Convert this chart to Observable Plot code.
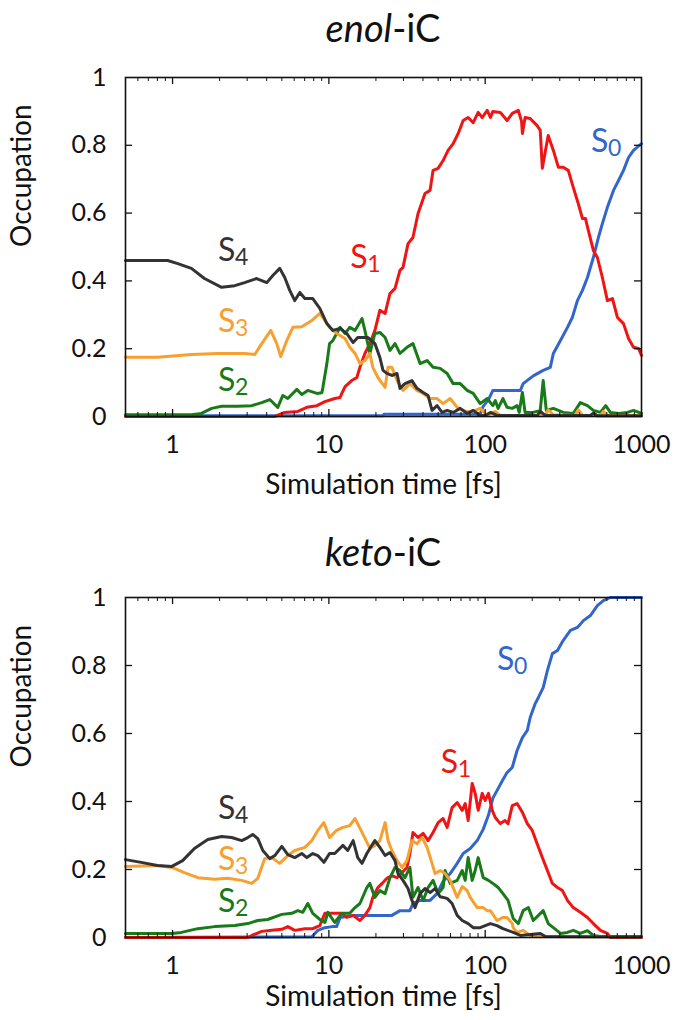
<!DOCTYPE html>
<html>
<head>
<meta charset="utf-8">
<script src="https://cdn.jsdelivr.net/npm/d3@7"></script>
<script src="https://cdn.jsdelivr.net/npm/@observablehq/plot@0.6"></script>
<style>
  body { margin: 0; background: #fff; font-family: Lato, "Open Sans", sans-serif; }
  #wrap { position: relative; width: 678px; height: 1020px; overflow: hidden; background: #fff; }
  .title { position: absolute; left: 125px; width: 516px; text-align: center; font-size: 38px; line-height: 1; color: #111; }
  .panel { position: absolute; left: 0; }
</style>
</head>
<body>
<div id="wrap">
  <div class="title" style="top:8px"><i>enol</i>-iC</div>
  <div class="panel" id="p1" style="top:55px"></div>
  <div class="title" style="top:532px"><i>keto</i>-iC</div>
  <div class="panel" id="p2" style="top:575px"></div>
</div>
<script>
// Electronic state occupations vs. simulation time [fs], pairs of [time, occupation]

// ---- enol-iC ----
const enolS0 = [[0.5,0.002],[22.2,0.002],[22.5,0.007],[92.9,0.007],[97.1,0.03],[105,0.05],[112,0.077],[168,0.077],[175,0.097],[203,0.12],[235,0.136],[261,0.145],[273,0.186],[303,0.224],[336,0.263],[361,0.292],[389,0.342],[419,0.372],[451,0.41],[492,0.469],[530,0.528],[562,0.569],[605,0.617],[662,0.667],[713,0.696],[767,0.726],[826,0.764],[889,0.785],[1000,0.805]];
const enolS1 = [[0.5,0],[4.5,0],[5.22,0.012],[6.33,0.015],[7.23,0.027],[8.38,0.032],[9.43,0.044],[10.9,0.053],[11.8,0.056],[12.1,0.068],[12.7,0.088],[14.0,0.106],[15.1,0.115],[15.8,0.145],[17.0,0.186],[18.3,0.215],[19.7,0.254],[21.2,0.313],[22.9,0.304],[24.6,0.363],[26.5,0.378],[28.5,0.431],[29.8,0.44],[32.1,0.51],[34.5,0.528],[37.2,0.599],[41.2,0.658],[44.4,0.667],[46.4,0.726],[50.0,0.732],[53.8,0.755],[57.9,0.785],[62.4,0.805],[67.2,0.835],[72.3,0.873],[77.8,0.882],[83.8,0.867],[90.2,0.897],[95.7,0.882],[103,0.903],[108,0.882],[112,0.9],[125,0.897],[138,0.873],[149,0.894],[163,0.903],[171,0.87],[173,0.835],[180,0.882],[194,0.879],[215,0.858],[225,0.844],[232,0.732],[243,0.785],[253,0.829],[273,0.785],[294,0.735],[316,0.735],[340,0.726],[366,0.676],[394,0.628],[419,0.584],[438,0.584],[457,0.549],[492,0.49],[522,0.469],[562,0.41],[605,0.342],[652,0.348],[702,0.292],[767,0.274],[826,0.23],[889,0.204],[957,0.201],[1000,0.18]];
const enolS2 = [[0.5,0.005],[1.32,0.005],[1.53,0.009],[1.78,0.024],[2.06,0.03],[2.61,0.03],[3.21,0.032],[3.72,0.041],[4.19,0.05],[4.71,0.027],[5.07,0.062],[5.46,0.053],[6.24,0.08],[6.71,0.065],[7.33,0.077],[8.38,0.068],[9.02,0.07],[9.16,0.086],[9.71,0.156],[10.1,0.215],[10.6,0.224],[11.8,0.263],[12.7,0.245],[13.6,0.263],[14.7,0.254],[16.3,0.289],[17.0,0.254],[18.3,0.186],[19.7,0.245],[21.2,0.248],[22.9,0.233],[24.6,0.195],[26.5,0.215],[28.5,0.186],[31.6,0.204],[34.5,0.215],[38.3,0.156],[42.5,0.165],[46.4,0.145],[51.5,0.142],[57.1,0.127],[62.4,0.097],[69.2,0.097],[76.7,0.077],[83.8,0.068],[92.9,0.038],[103,0.053],[112,0.032],[116,0.047],[121,0.024],[130,0.053],[138,0.027],[149,0.024],[160,0.032],[165,0.012],[173,0.071],[180,0.012],[203,0.012],[225,0.018],[235,0.106],[246,0.018],[273,0.024],[316,0.012],[366,0.009],[406,0.041],[451,0.032],[492,0.018],[546,0.012],[590,0.032],[632,0.012],[713,0.009],[813,0.012],[889,0.018],[1000,0.009]];
const enolS3 = [[0.5,0.175],[0.80,0.175],[1.32,0.183],[1.94,0.186],[2.89,0.186],[3.36,0.183],[3.72,0.215],[4.25,0.254],[4.64,0.215],[4.92,0.177],[5.38,0.224],[5.88,0.263],[6.71,0.265],[7.78,0.283],[8.75,0.304],[9.16,0.292],[10.1,0.263],[11.2,0.245],[12.7,0.23],[13.6,0.204],[14.7,0.186],[15.8,0.156],[17.0,0.165],[18.3,0.186],[19.1,0.145],[20.6,0.115],[22.9,0.086],[23.9,0.145],[25.3,0.145],[27.3,0.106],[29.8,0.077],[33.0,0.097],[36.6,0.077],[40.1,0.068],[44.4,0.053],[49.2,0.053],[53.8,0.038],[59.7,0.053],[66.2,0.027],[72.3,0.018],[80.2,0.012],[92.9,0.024],[103,0.003],[116,0.015],[125,0.003],[243,0.003],[253,0.02],[273,0.005],[375,0.003],[394,0.02],[419,0.003],[546,0.003],[570,0.015],[605,0.003],[1000,0.003]];
const enolS4 = [[0.5,0.46],[0.93,0.46],[1.08,0.451],[1.32,0.437],[1.6,0.407],[2.06,0.381],[2.5,0.386],[2.89,0.395],[3.45,0.407],[4.01,0.395],[4.38,0.416],[4.85,0.437],[5.22,0.41],[5.62,0.372],[6.05,0.342],[6.52,0.366],[7.02,0.348],[7.89,0.348],[8.75,0.319],[9.71,0.274],[10.6,0.254],[11.8,0.26],[13.0,0.245],[14.3,0.218],[15.3,0.233],[17.8,0.233],[19.7,0.215],[21.2,0.174],[22.2,0.136],[23.5,0.127],[25.3,0.121],[27.3,0.127],[28.5,0.083],[30.7,0.097],[34.0,0.106],[36.6,0.083],[40.1,0.071],[43.1,0.062],[45.7,0.018],[49.2,0.032],[53.0,0.012],[57.1,0.018],[62.4,0.012],[69.2,0.024],[76.7,0.009],[83.8,0.018],[92.9,0.003],[100,0.003],[108,0.012],[119,0.003],[215,0.003],[225,0.015],[243,0.003],[471,0.003],[492,0.01],[522,0.002],[1000,0.002]];

// ---- keto-iC ----
const ketoS0 = [[0.5,0],[7.78,0.002],[8.5,0.021],[9.43,0.029],[10.5,0.032],[11.2,0.032],[11.8,0.059],[14.3,0.065],[25.3,0.065],[27.3,0.074],[28.5,0.079],[33.0,0.079],[34.5,0.1],[38.3,0.109],[44.4,0.109],[49.2,0.129],[53.8,0.165],[59.7,0.188],[66.2,0.218],[72.3,0.247],[80.2,0.262],[88.9,0.285],[97.1,0.318],[105,0.36],[112,0.41],[119,0.432],[129,0.462],[138,0.485],[149,0.5],[160,0.55],[173,0.588],[186,0.609],[194,0.647],[209,0.688],[219,0.706],[235,0.735],[250,0.785],[269,0.835],[290,0.844],[316,0.874],[351,0.903],[389,0.912],[425,0.932],[471,0.947],[522,0.976],[570,0.991],[632,1.0],[1000,1.0]];
const ketoS1 = [[0.5,0],[3.03,0],[3.21,0.006],[3.72,0.018],[4.31,0.021],[5.0,0.024],[5.46,0.032],[6.05,0.021],[7.02,0.026],[7.89,0.026],[8.75,0.035],[9.43,0.071],[10.9,0.071],[12.1,0.071],[13.0,0.059],[14.3,0.065],[15.8,0.05],[17.0,0.065],[18.3,0.088],[19.1,0.118],[20.6,0.147],[21.9,0.159],[23.5,0.174],[25.3,0.182],[27.3,0.176],[29.4,0.191],[31.6,0.206],[33.0,0.247],[34.5,0.309],[37.2,0.294],[40.1,0.306],[43.1,0.285],[46.4,0.309],[50.0,0.338],[53.8,0.35],[57.1,0.324],[61.4,0.382],[66.2,0.397],[71.3,0.374],[74.5,0.394],[77.8,0.344],[82.6,0.453],[86.3,0.424],[90.2,0.374],[95.7,0.424],[100,0.403],[105,0.424],[111,0.374],[116,0.353],[125,0.335],[134,0.344],[140,0.335],[149,0.388],[160,0.394],[173,0.368],[186,0.335],[200,0.315],[215,0.276],[232,0.235],[250,0.197],[269,0.159],[290,0.147],[312,0.138],[336,0.109],[366,0.088],[406,0.074],[451,0.059],[492,0.041],[546,0.021],[605,0.012],[632,0],[1000,0]];
const ketoS2 = [[0.5,0.012],[0.99,0.012],[1.14,0.015],[1.45,0.026],[1.86,0.032],[2.5,0.035],[3.03,0.041],[3.51,0.05],[4.06,0.053],[5.0,0.068],[5.79,0.071],[6.33,0.079],[6.81,0.074],[7.33,0.1],[7.89,0.071],[8.75,0.053],[9.43,0.044],[9.86,0.074],[10.9,0.044],[12.1,0.071],[13.6,0.071],[14.7,0.088],[15.8,0.1],[17.5,0.147],[18.3,0.159],[19.7,0.118],[21.2,0.138],[22.9,0.129],[24.6,0.176],[26.5,0.206],[28.5,0.197],[30.7,0.176],[33.0,0.206],[34.5,0.118],[37.2,0.147],[40.1,0.109],[43.1,0.147],[46.4,0.168],[50.0,0.129],[53.8,0.147],[55.4,0.197],[59.7,0.159],[66.2,0.168],[71.3,0.197],[74.5,0.168],[77.8,0.235],[82.6,0.168],[86.3,0.197],[90.2,0.235],[97.1,0.176],[105,0.168],[112,0.159],[121,0.147],[130,0.129],[140,0.109],[151,0.056],[163,0.041],[175,0.079],[189,0.088],[203,0.05],[219,0.065],[235,0.079],[253,0.041],[273,0.029],[303,0.012],[336,0.015],[366,0.021],[406,0.012],[451,0.02],[492,0.006],[546,0.003],[1000,0.002]];
const ketoS3 = [[0.5,0.209],[0.80,0.212],[0.99,0.206],[1.19,0.191],[1.45,0.176],[1.86,0.171],[2.25,0.174],[2.77,0.168],[3.21,0.159],[3.51,0.174],[3.89,0.232],[4.31,0.235],[4.85,0.218],[5.46,0.241],[6.05,0.256],[7.02,0.265],[7.78,0.285],[8.5,0.315],[9.29,0.338],[10.1,0.294],[11.2,0.315],[12.3,0.324],[13.6,0.329],[14.7,0.35],[16.3,0.309],[18.3,0.262],[19.7,0.271],[21.2,0.285],[22.9,0.338],[23.9,0.285],[25.3,0.256],[27.3,0.226],[29.4,0.206],[31.6,0.226],[34.0,0.285],[36.6,0.276],[39.5,0.294],[42.5,0.265],[45.7,0.218],[47.8,0.188],[51.5,0.197],[55.4,0.188],[59.7,0.168],[66.2,0.118],[71.3,0.15],[76.7,0.138],[80.2,0.118],[88.9,0.088],[97.1,0.088],[103,0.079],[108,0.079],[119,0.05],[130,0.059],[138,0.059],[149,0.041],[151,0.029],[160,0.015],[175,0.021],[194,0.006],[215,0.003],[1000,0.002]];
const ketoS4 = [[0.5,0.229],[0.63,0.221],[0.80,0.212],[0.99,0.209],[1.16,0.226],[1.38,0.262],[1.68,0.288],[2.06,0.297],[2.39,0.294],[2.77,0.285],[3.03,0.294],[3.26,0.303],[3.51,0.291],[3.78,0.256],[4.19,0.232],[4.51,0.241],[5.0,0.268],[5.46,0.244],[6.05,0.235],[6.71,0.247],[7.23,0.235],[7.89,0.247],[8.5,0.241],[9.29,0.221],[10.1,0.247],[10.9,0.247],[12.3,0.271],[13.2,0.256],[14.3,0.285],[15.3,0.235],[16.3,0.218],[17.5,0.247],[18.3,0.262],[19.7,0.285],[21.2,0.265],[22.9,0.241],[24.6,0.25],[26.5,0.226],[27.7,0.188],[29.8,0.168],[32.1,0.144],[34.0,0.109],[35.6,0.088],[38.3,0.129],[41.2,0.144],[44.4,0.132],[47.8,0.144],[51.5,0.12],[57.1,0.115],[61.4,0.1],[66.2,0.065],[71.3,0.05],[77.8,0.041],[83.8,0.029],[92.9,0.029],[108,0.041],[119,0.035],[130,0.026],[151,0.015],[168,0.006],[225,0.012],[243,0.003],[1000,0.002]];

// state colours and labels
const stateNames = ["S0", "S1", "S2", "S3", "S4"];
const stateColors = ["#3366cc", "#f01414", "#187a18", "#f7a030", "#333333"];
const enolLabelT = [475, 13.7, 1.95, 1.95, 1.95];
const enolLabelV = [0.811, 0.469, 0.106, 0.28, 0.49];
const ketoLabelT = [119, 52, 1.95, 1.95, 1.95];
const ketoLabelV = [0.818, 0.515, 0.106, 0.229, 0.379];

// axes
const xDomain = [0.5, 1000];
const xTickLabels = [1, 10, 100, 1000];
const xMajor = [1, 10, 100];
const xMinor = [0.6, 0.7, 0.8, 0.9, 2, 3, 4, 5, 6, 7, 8, 9, 20, 30, 40, 50, 60, 70, 80, 90, 200, 300, 400, 500, 600, 700, 800, 900];
const yTickLabels = [0, 0.2, 0.4, 0.6, 0.8, 1];
const yInner = [0.2, 0.4, 0.6, 0.8];

const FONT = "Lato, 'Open Sans', sans-serif";
const W = 678, ML = 125, MR = 37, MT = 22;
const innerW = W - ML - MR;

function panel(series, labelT, labelV, height, innerH, xLabelDy) {
  const major = 7, minor = 4;
  const lines = series.map((s, i) =>
    Plot.line(s, {x: d => d[0], y: d => d[1], stroke: stateColors[i], strokeWidth: 3, strokeLinejoin: "round"}));
  const labels = [];
  stateNames.forEach((n, i) => {
    const pos = [{t: labelT[i], v: labelV[i]}];
    labels.push(Plot.text(pos, {x: "t", y: "v", text: () => "S", fill: stateColors[i], fontSize: 32, textAnchor: "start"}));
    labels.push(Plot.text(pos, {x: "t", y: "v", text: () => n.slice(1), fill: stateColors[i], fontSize: 23, textAnchor: "start", dx: 17, dy: 7}));
  });
  return Plot.plot({
    width: W, height,
    marginLeft: ML, marginRight: MR, marginTop: MT, marginBottom: height - MT - innerH,
    style: {fontFamily: FONT, fontSize: "25px", color: "#111", background: "transparent"},
    x: {type: "log", domain: xDomain},
    y: {domain: [0, 1]},
    marks: [
      ...lines,
      ...labels,
      // inward ticks on all four sides
      Plot.tickX(xMajor, {x: d => d, insetTop: innerH - major, stroke: "#111", strokeWidth: 1.3}),
      Plot.tickX(xMajor, {x: d => d, insetBottom: innerH - major, stroke: "#111", strokeWidth: 1.3}),
      Plot.tickX(xMinor, {x: d => d, insetTop: innerH - minor, stroke: "#111", strokeWidth: 1}),
      Plot.tickX(xMinor, {x: d => d, insetBottom: innerH - minor, stroke: "#111", strokeWidth: 1}),
      Plot.tickY(yInner, {y: d => d, insetRight: innerW - major, stroke: "#111", strokeWidth: 1.3}),
      Plot.tickY(yInner, {y: d => d, insetLeft: innerW - major, stroke: "#111", strokeWidth: 1.3}),
      Plot.frame({stroke: "#111", strokeWidth: 1.6}),
      Plot.axisX(xTickLabels, {tickSize: 0, tickPadding: 19, tickFormat: d => String(d), fontSize: 25, label: null}),
      Plot.axisY(yTickLabels, {tickSize: 0, tickPadding: 19, tickFormat: d => String(d), fontSize: 25, label: null}),
      Plot.text(["Simulation time [fs]"], {frameAnchor: "bottom", dy: xLabelDy, fontSize: 28, fill: "#111"}),
      Plot.text(["Occupation"], {frameAnchor: "left", dx: -103, rotate: -90, fontSize: 28, fill: "#111"})
    ]
  });
}

document.getElementById("p1").append(
  panel([enolS0, enolS1, enolS2, enolS3, enolS4], enolLabelT, enolLabelV, 460, 339, 77));
document.getElementById("p2").append(
  panel([ketoS0, ketoS1, ketoS2, ketoS3, ketoS4], ketoLabelT, ketoLabelV, 445, 340, 68));
</script>
</body>
</html>
